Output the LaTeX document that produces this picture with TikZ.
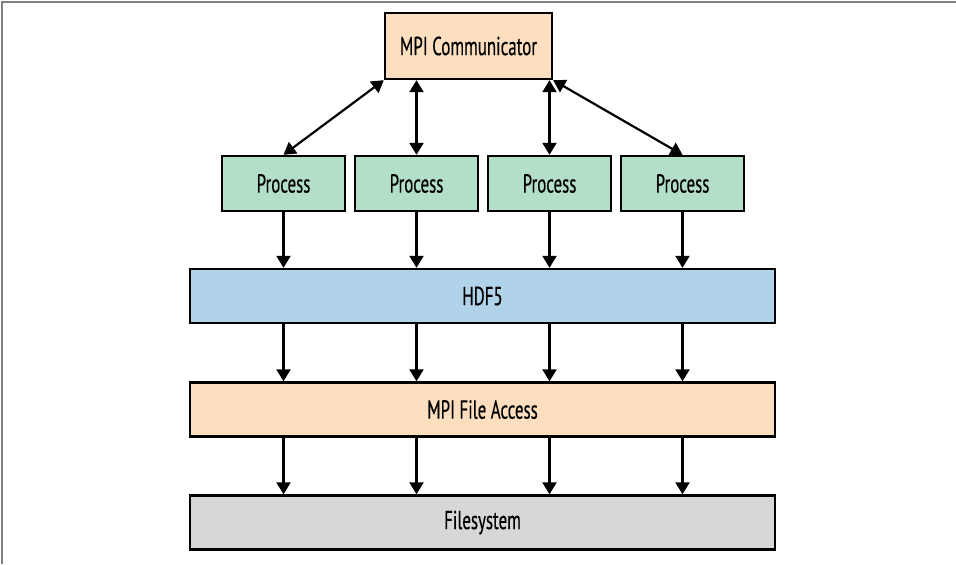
\documentclass[tikz,border=0pt]{standalone}
\usepackage{fontspec}
\setmainfont[FakeStretch=0.65, FakeBold=0.4]{PT Sans}
\usetikzlibrary{arrows.meta}
\definecolor{peach}{HTML}{FDDFC0}
\definecolor{mint}{HTML}{B3DFC9}
\definecolor{sky}{HTML}{B1D3EA}
\definecolor{stone}{HTML}{D7D7D7}
\begin{document}
\begin{tikzpicture}[x=0.5pt, y=-0.5pt,
  box/.style={draw, line width=1.2pt, inner sep=0pt, font=\fontsize{13}{15}\selectfont},
  proc/.style={box, fill=mint, minimum width=61.5pt, minimum height=27.5pt},
  layer/.style={box, minimum width=292.5pt, minimum height=27pt},
  link/.style={line width=1.1pt, -{Triangle[length=6pt, width=7pt]}},
  dlink/.style={line width=1.1pt, {Triangle[length=6pt, width=7pt]}-{Triangle[length=6pt, width=7pt]}}]
\useasboundingbox (0,0) rectangle (956,564);
\draw[gray, line width=1pt] (2,564) -- (2,2) -- (956,2);
\node[box, fill=peach, minimum width=83.5pt, minimum height=33pt] (comm) at (468.5,46){MPI Communicator};
\node[proc] (proc1) at (283.5,183.5){Process};
\node[proc] (proc2) at (416.5,183.5){Process};
\node[proc] (proc3) at (549.5,183.5){Process};
\node[proc] (proc4) at (682.5,183.5){Process};
\node[layer, fill=sky] (hdf) at (482.5,296){HDF5};
\node[layer, fill=peach] (mpiio) at (482.5,409.5){MPI File Access};
\node[layer, fill=stone] (fs) at (482.5,522.5){Filesystem};
\draw[dlink](comm.south west) -- (proc1.north);
\draw[dlink](proc2 |- comm.south) -- (proc2.north);
\draw[dlink](proc3 |- comm.south) -- (proc3.north);
\draw[dlink](comm.south east) -- (proc4.north);
\foreach \p in {proc1,proc2,proc3,proc4}{
  \draw[link](\p.south) -- (\p |- hdf.north);
  \draw[link](\p |- hdf.south) -- (\p |- mpiio.north);
  \draw[link](\p |- mpiio.south) -- (\p |- fs.north);
}
\end{tikzpicture}
\end{document}
